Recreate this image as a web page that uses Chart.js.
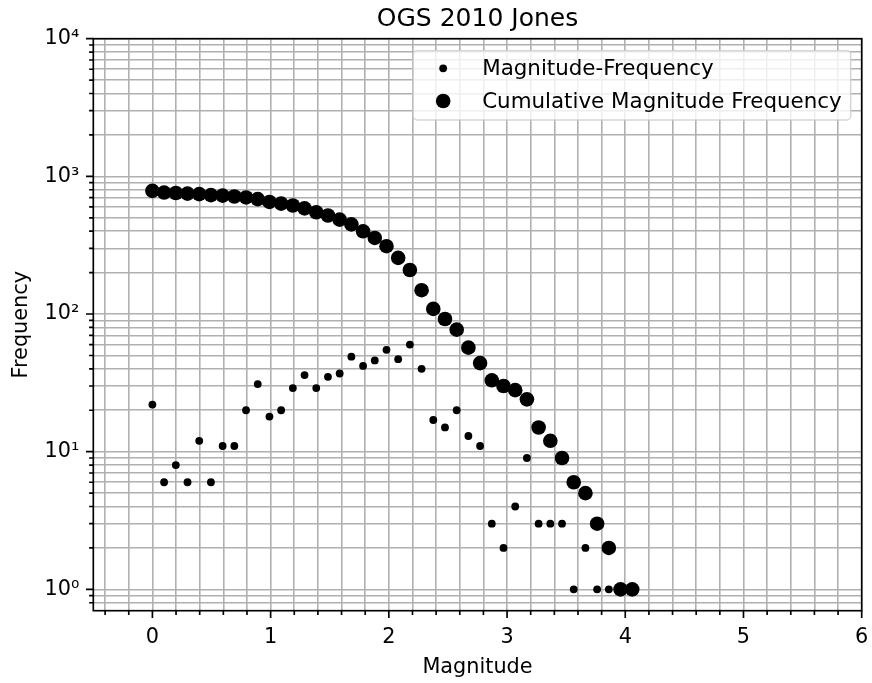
<!DOCTYPE html>
<html>
<head>
<meta charset="utf-8">
<script src="https://cdn.jsdelivr.net/npm/chart.js@4.4.0/dist/chart.umd.min.js"></script>
<style>
html, body { margin: 0; padding: 0; background: #ffffff; }
canvas { display: block; }
</style>
</head>
<body>
<canvas id="c" width="872" height="683"></canvas>
<script>
// ---- data ----
const magnitudes = [0, 0.099, 0.198, 0.297, 0.396, 0.495, 0.594, 0.693, 0.792, 0.891,
  0.99, 1.089, 1.188, 1.287, 1.386, 1.485, 1.584, 1.683, 1.782, 1.881,
  1.98, 2.079, 2.178, 2.277, 2.376, 2.475, 2.574, 2.673, 2.772, 2.871,
  2.97, 3.069, 3.168, 3.267, 3.366, 3.465, 3.564, 3.663, 3.762, 3.861,
  3.96, 4.059];
const frequency = [22, 6, 8, 6, 12, 6, 11, 11, 20, 31,
  18, 20, 29, 36, 29, 35, 37, 49, 42, 46,
  55, 47, 60, 40, 17, 15, 20, 13, 11, 3,
  2, 4, 9, 3, 3, 3, 1, 2, 1, 1,
  null, 1];
const cumulativeFrequency = [785, 763, 757, 749, 743, 731, 725, 714, 703, 683,
  652, 634, 614, 585, 549, 520, 485, 448, 399, 357,
  311, 256, 209, 149, 109, 92, 77, 57, 44, 33,
  30, 28, 24, 15, 12, 9, 6, 5, 3, 2,
  1, 1];

const xMajorTicks = [0, 1, 2, 3, 4, 5, 6];
const xTickLabels = ['0', '1', '2', '3', '4', '5', '6'];
const xMinorTicks = [-0.4, -0.2, 0.2, 0.4, 0.6, 0.8, 1.2, 1.4, 1.6, 1.8, 2.2, 2.4, 2.6, 2.8,
  3.2, 3.4, 3.6, 3.8, 4.2, 4.4, 4.6, 4.8, 5.2, 5.4, 5.6, 5.8];
const yMajorTicks = [1, 10, 100, 1000, 10000];
const yTickLabels = ['10\u2070', '10\u00B9', '10\u00B2', '10\u00B3', '10\u2074'];
const yMinorTicks = [0.8, 0.9,
  2, 3, 4, 5, 6, 7, 8, 9,
  20, 30, 40, 50, 60, 70, 80, 90,
  200, 300, 400, 500, 600, 700, 800, 900,
  2000, 3000, 4000, 5000, 6000, 7000, 8000, 9000];

const titleText = 'OGS 2010 Jones';
const xTitle = 'Magnitude';
const yTitle = 'Frequency';
const seriesLabels = ['Magnitude-Frequency', 'Cumulative Magnitude Frequency'];

// ---- chart ----
const FONT = 'DejaVu Sans';
const FS = 20.8;
Chart.defaults.font.family = FONT;
Chart.defaults.color = '#000000';

const smallPts = magnitudes.map((m, i) => ({ x: m, y: frequency[i] })).filter(p => p.y !== null);
const bigPts = magnitudes.map((m, i) => ({ x: m, y: cumulativeFrequency[i] }));

const xGrid = xMajorTicks.concat(xMinorTicks).sort((a, b) => a - b);
const yGrid = yMajorTicks.concat(yMinorTicks).sort((a, b) => a - b);

const mplPlugin = {
  id: 'mplDecor',
  afterDatasetsDraw(chart) {
    const { ctx, chartArea: a, scales: { x, y } } = chart;
    ctx.save();
    // tick marks
    ctx.strokeStyle = '#000000';
    ctx.lineWidth = 1.67;
    ctx.beginPath();
    xMajorTicks.forEach(v => { const p = x.getPixelForValue(v); ctx.moveTo(p, a.bottom); ctx.lineTo(p, a.bottom + 7.3); });
    xMinorTicks.forEach(v => { const p = x.getPixelForValue(v); ctx.moveTo(p, a.bottom); ctx.lineTo(p, a.bottom + 4.2); });
    yMajorTicks.forEach(v => { const p = y.getPixelForValue(v); ctx.moveTo(a.left, p); ctx.lineTo(a.left - 7.3, p); });
    yMinorTicks.forEach(v => { const p = y.getPixelForValue(v); ctx.moveTo(a.left, p); ctx.lineTo(a.left - 4.2, p); });
    ctx.stroke();
    // spines
    ctx.strokeRect(a.left, a.top, a.right - a.left, a.bottom - a.top);

    // legend
    const ds = chart.data.datasets;
    const LFS = 21.4;
    ctx.font = LFS + 'px "' + FONT + '"';
    const maxW = Math.max(...ds.map(d => ctx.measureText(d.label).width));
    const boxRight = a.right - 11;
    const boxTop = a.top + 12;
    const textX = boxRight - 9 - maxW;
    const boxLeft = textX - 69;
    const boxH = 69.3;
    ctx.beginPath();
    ctx.roundRect(boxLeft, boxTop, boxRight - boxLeft, boxH, 4);
    ctx.fillStyle = 'rgba(255,255,255,0.8)';
    ctx.fill();
    ctx.strokeStyle = 'rgba(204,204,204,0.8)';
    ctx.lineWidth = 1.5;
    ctx.stroke();
    const rows = [boxTop + 17.6, boxTop + 50.3];
    ds.forEach((d, i) => {
      ctx.beginPath();
      ctx.arc(textX - 39, rows[i], d.pointRadius, 0, Math.PI * 2);
      ctx.fillStyle = d.pointBackgroundColor;
      ctx.fill();
      ctx.fillStyle = '#000000';
      ctx.textAlign = 'left';
      ctx.textBaseline = 'middle';
      ctx.fillText(d.label, textX, rows[i] + 1);
    });
    ctx.restore();
  }
};

new Chart(document.getElementById('c'), {
  type: 'scatter',
  data: {
    datasets: [
      {
        label: seriesLabels[0],
        data: smallPts,
        pointRadius: 3.9,
        pointHoverRadius: 3.9,
        pointBackgroundColor: '#000000',
        pointBorderWidth: 0,
        showLine: false
      },
      {
        label: seriesLabels[1],
        data: bigPts,
        pointRadius: 7.3,
        pointHoverRadius: 7.3,
        pointBackgroundColor: '#000000',
        pointBorderWidth: 0,
        showLine: false
      }
    ]
  },
  options: {
    responsive: false,
    devicePixelRatio: 1,
    animation: false,
    events: [],
    layout: { padding: { left: 0, right: 10.3, top: 0, bottom: 0 } },
    plugins: {
      legend: { display: false },
      tooltip: { enabled: false },
      title: { display: false }
    },
    scales: {
      x: {
        type: 'linear',
        min: -0.5,
        max: 6,
        afterBuildTicks: s => { s.ticks = xGrid.map(v => ({ value: v })); },
        afterFit: s => { s.height = 72.3; s.paddingLeft = 0; s.paddingRight = 0; },
        ticks: {
          autoSkip: false,
          maxRotation: 0,
          padding: 14,
          color: '#000000',
          font: { size: FS },
          callback: v => { const i = xMajorTicks.findIndex(t => Math.abs(t - v) < 1e-9); return i >= 0 ? xTickLabels[i] : ''; }
        },
        grid: { color: '#b0b0b0', lineWidth: 1.6, drawTicks: false },
        border: { display: false },
        title: { display: true, text: xTitle, color: '#000000', font: { size: FS }, padding: { top: 0, bottom: 3.4 } }
      },
      titleAxis: {
        type: 'linear',
        position: 'top',
        min: -0.5,
        max: 6,
        afterFit: s => { s.height = 38.7; s.paddingLeft = 0; s.paddingRight = 0; },
        ticks: { display: false },
        grid: { display: false, drawTicks: false },
        border: { display: false },
        title: { display: true, text: titleText, color: '#000000', font: { size: 25, weight: 'normal' }, padding: { top: 4.2, bottom: 0 } }
      },
      y: {
        type: 'logarithmic',
        min: 0.72,
        max: 10000,
        afterBuildTicks: s => { s.ticks = yGrid.map(v => ({ value: v })); },
        afterFit: s => { s.width = 93.3; s.paddingTop = 0; s.paddingBottom = 0; },
        ticks: {
          autoSkip: false,
          padding: 14,
          color: '#000000',
          font: { size: FS },
          callback: v => { const i = yMajorTicks.indexOf(v); return i >= 0 ? yTickLabels[i] : ''; }
        },
        grid: { color: '#b0b0b0', lineWidth: 1.6, drawTicks: false },
        border: { display: false },
        title: { display: true, text: yTitle, color: '#000000', font: { size: FS }, padding: { top: 8.8, bottom: 0 } }
      }
    }
  },
  plugins: [mplPlugin]
});
</script>
</body>
</html>
